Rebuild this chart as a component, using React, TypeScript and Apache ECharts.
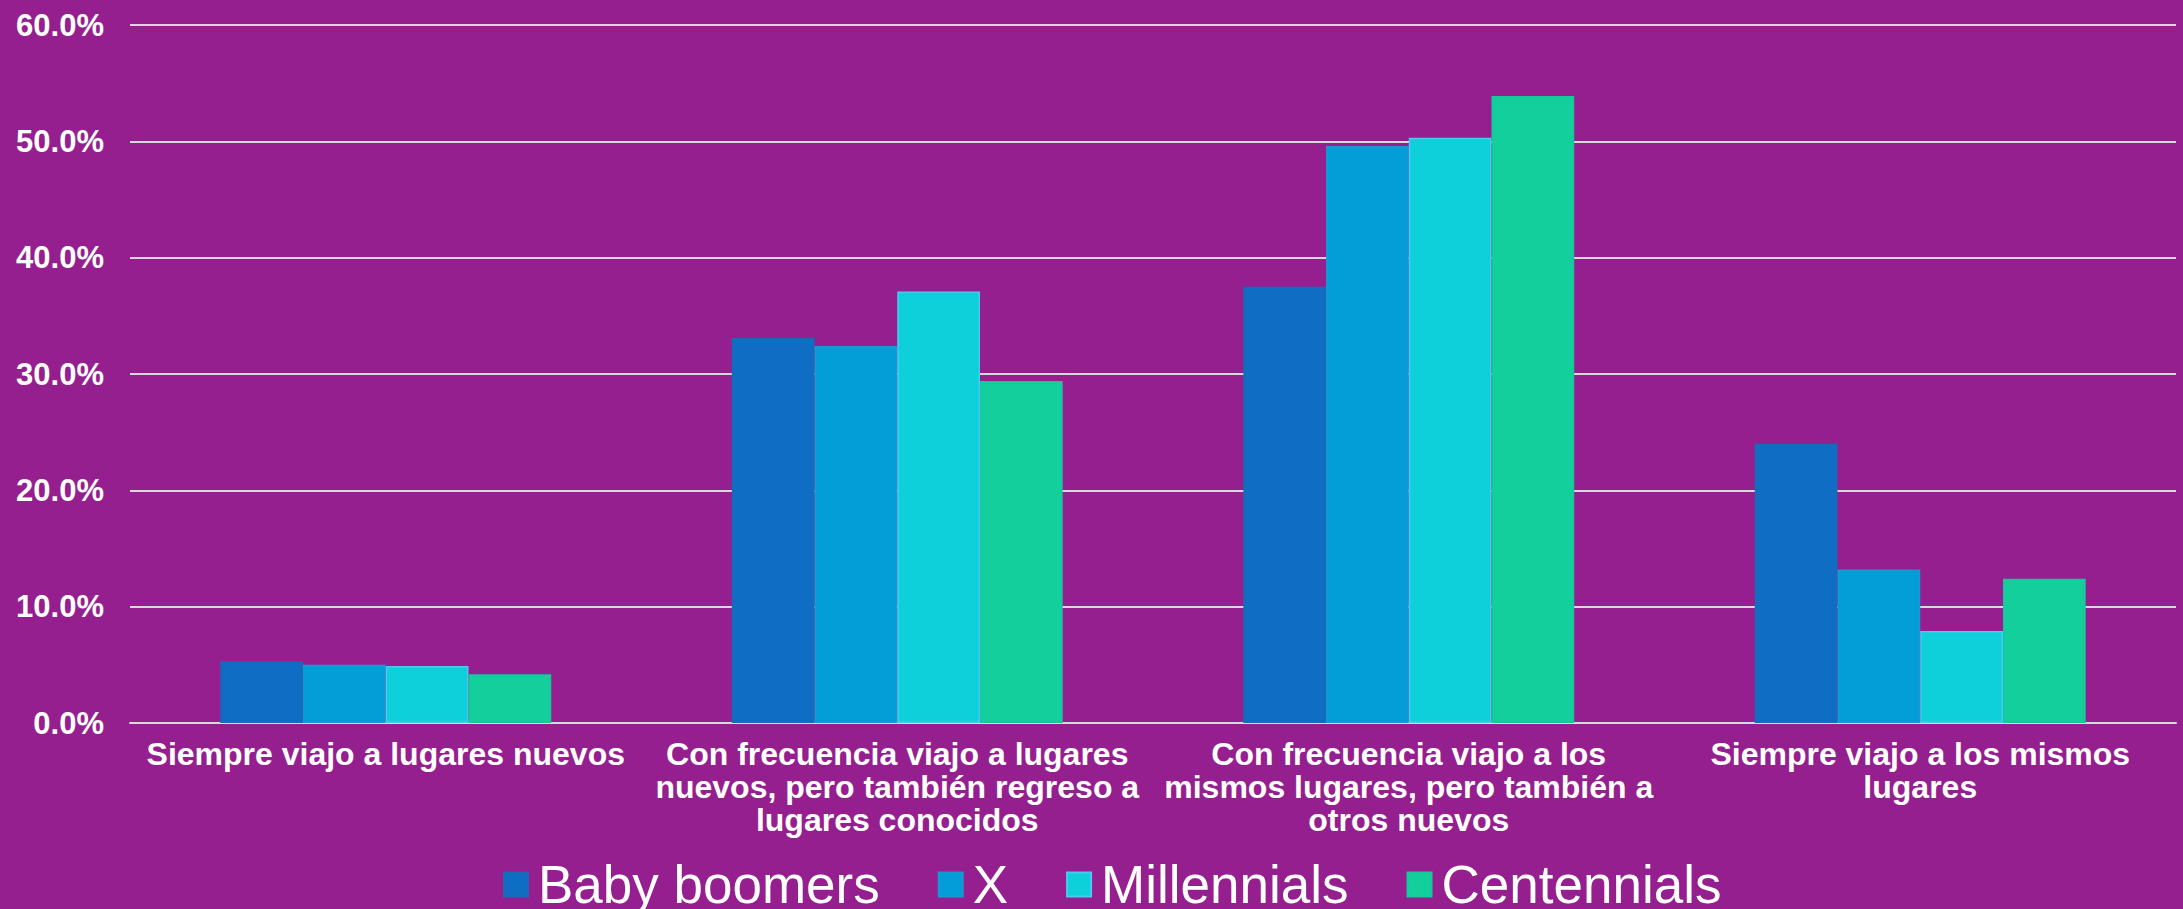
import React, { useEffect, useRef } from "react";
import * as echarts from "echarts";

const categories = [
  "Siempre viajo a lugares nuevos",
  "Con frecuencia viajo a lugares\nnuevos, pero también regreso a\nlugares conocidos",
  "Con frecuencia viajo a los\nmismos lugares, pero también a\notros nuevos",
  "Siempre viajo a los mismos\nlugares",
];
const seriesNames = ["Baby boomers", "X", "Millennials", "Centennials"];
const babyBoomers = [5.3, 33.1, 37.5, 24.0];
const genX = [5.0, 32.4, 49.6, 13.2];
const millennials = [4.9, 37.1, 50.3, 7.9];
const centennials = [4.2, 29.4, 53.9, 12.4];
const yTicks = { min: 0, max: 60, interval: 10 };

const colors = ["#0F6DC4", "#039DD8", "#0DD0DA", "#12CF9C"];
const borders = ["#1A6AB8", "#1A98CF", "#4DC8F2", "#18C89A"];
const FONT = "'Liberation Sans', Arial, Helvetica, sans-serif";

export default function App() {
  const ref = useRef<HTMLDivElement>(null);
  useEffect(() => {
    document.body.style.margin = "0";
    const chart = echarts.init(ref.current!, null, { renderer: "svg" });
    const data = [babyBoomers, genX, millennials, centennials];
    chart.setOption({
      animation: false,
      backgroundColor: "#951F8F",
      textStyle: { fontFamily: FONT },
      grid: { left: 130, right: 7, top: 25, bottom: 186, containLabel: false },
      legend: {
        data: seriesNames,
        left: 498,
        top: 853,
        itemWidth: 24,
        itemHeight: 24,
        itemGap: 58,
        icon: "rect",
        textStyle: { color: "#FFFFFF", fontSize: 53, lineHeight: 53, fontFamily: FONT, padding: [0, 0, 0, 5] },
      },
      xAxis: {
        type: "category",
        data: categories,
        axisTick: { show: false },
        axisLine: { show: true, lineStyle: { color: "#D9D9D9", width: 2 } },
        axisLabel: {
          color: "#FFFFFF",
          fontSize: 32,
          fontWeight: "bold",
          lineHeight: 33,
          margin: 14,
          interval: 0,
          fontFamily: FONT,
          align: "center",
        },
      },
      yAxis: {
        type: "value",
        min: yTicks.min,
        max: yTicks.max,
        interval: yTicks.interval,
        axisLine: { show: false },
        axisTick: { show: false },
        splitLine: { lineStyle: { color: "#D9D9D9", width: 2 } },
        axisLabel: {
          color: "#FFFFFF",
          fontSize: 31,
          fontWeight: "bold",
          margin: 26,
          fontFamily: FONT,
          formatter: (v: number) => v.toFixed(1) + "%",
        },
      },
      series: seriesNames.map((name, i) => ({
        name,
        type: "bar",
        data: data[i],
        barGap: "0%",
        barCategoryGap: "35.3%",
        itemStyle: { color: colors[i], borderColor: borders[i], borderWidth: 1.5 },
      })),
    });
    return () => chart.dispose();
  }, []);
  return (
    <div
      ref={ref}
      style={{ position: "absolute", left: 0, top: 0, width: 2183, height: 909 }}
    />
  );
}
